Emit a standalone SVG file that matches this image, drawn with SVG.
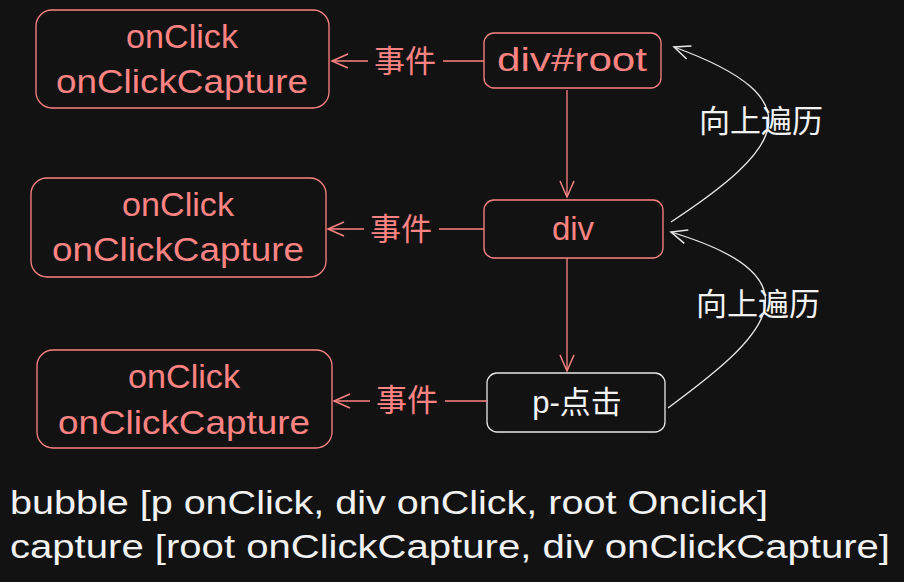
<svg xmlns="http://www.w3.org/2000/svg" width="904" height="582" viewBox="0 0 904 582">
<defs>
<style>
.r{fill:none;stroke:#ff8383;stroke-width:1.3}
.w{fill:none;stroke:#e8e8e8;stroke-width:1.3}
.t{font-family:"Liberation Sans","Noto Sans CJK SC",sans-serif;font-size:33px;fill:#ff8383;text-anchor:middle}
.c{font-family:"Liberation Sans","Noto Sans CJK SC",sans-serif;font-size:31px;text-anchor:middle}
.b{font-family:"Liberation Sans",sans-serif;font-size:33px;fill:#f2f2f2}
</style>
<marker id="ar" viewBox="0 0 20 20" refX="18" refY="10" markerWidth="20" markerHeight="20" markerUnits="userSpaceOnUse" orient="auto"><path d="M2 3L18 10L2 17" fill="none" stroke="#ff8383" stroke-width="1.5"/></marker>
<marker id="aw" viewBox="0 0 20 20" refX="18" refY="10" markerWidth="20" markerHeight="20" markerUnits="userSpaceOnUse" orient="auto"><path d="M2 3L18 10L2 17" fill="none" stroke="#e8e8e8" stroke-width="1.5"/></marker>
</defs>
<rect width="904" height="582" fill="#121212"/>
<g id="h1"><rect class="r" x="36" y="10" width="293" height="98" rx="16"/><text class="t" x="182" y="48" textLength="112" lengthAdjust="spacingAndGlyphs">onClick</text><text class="t" x="182" y="93" textLength="252" lengthAdjust="spacingAndGlyphs">onClickCapture</text></g>
<g id="h2"><rect class="r" x="31" y="178" width="295" height="99" rx="16"/><text class="t" x="178" y="216" textLength="112" lengthAdjust="spacingAndGlyphs">onClick</text><text class="t" x="178" y="261" textLength="252" lengthAdjust="spacingAndGlyphs">onClickCapture</text></g>
<g id="h3"><rect class="r" x="37" y="350" width="295" height="98" rx="16"/><text class="t" x="184" y="388" textLength="112" lengthAdjust="spacingAndGlyphs">onClick</text><text class="t" x="184" y="434" textLength="252" lengthAdjust="spacingAndGlyphs">onClickCapture</text></g>
<g id="root"><rect class="r" x="484" y="33" width="177" height="55" rx="10"/><text class="t" x="572" y="71" textLength="150" lengthAdjust="spacingAndGlyphs">div#root</text></g>
<g id="div"><rect class="r" x="484" y="200" width="179" height="58" rx="10"/><text class="t" x="573" y="240">div</text></g>
<g id="p"><rect class="w" x="487" y="373" width="178" height="59" rx="10"/><text class="c" x="577" y="413" fill="#f2f2f2">p-点击</text></g>
<g id="connectors">
<path class="r" d="M484 61H332" marker-end="url(#ar)"/>
<path class="r" d="M484 229H328" marker-end="url(#ar)"/>
<path class="r" d="M487 401H334" marker-end="url(#ar)"/>
<rect x="368" y="40" width="75" height="40" fill="#121212"/>
<rect x="364" y="208" width="75" height="40" fill="#121212"/>
<rect x="370" y="380" width="75" height="40" fill="#121212"/>
<text class="c" x="405" y="72" fill="#ff8383">事件</text>
<text class="c" x="401" y="240" fill="#ff8383">事件</text>
<text class="c" x="407" y="411" fill="#ff8383">事件</text>
<path class="r" d="M567 90V197" marker-end="url(#ar)"/>
<path class="r" d="M567 258V371" marker-end="url(#ar)"/>
<path class="w" d="M668 408C760 340 830 280 671 232" marker-end="url(#aw)"/>
<path class="w" d="M671 222C780 150 820 100 674 47" marker-end="url(#aw)"/>
<text class="c" x="758" y="315" fill="#f2f2f2">向上遍历</text>
<text class="c" x="761" y="132" fill="#f2f2f2">向上遍历</text>
</g>
<text class="b" x="10" y="514" textLength="758" lengthAdjust="spacingAndGlyphs">bubble [p onClick, div onClick, root Onclick]</text>
<text class="b" x="10" y="558" textLength="880" lengthAdjust="spacingAndGlyphs">capture [root onClickCapture, div onClickCapture]</text>
</svg>
